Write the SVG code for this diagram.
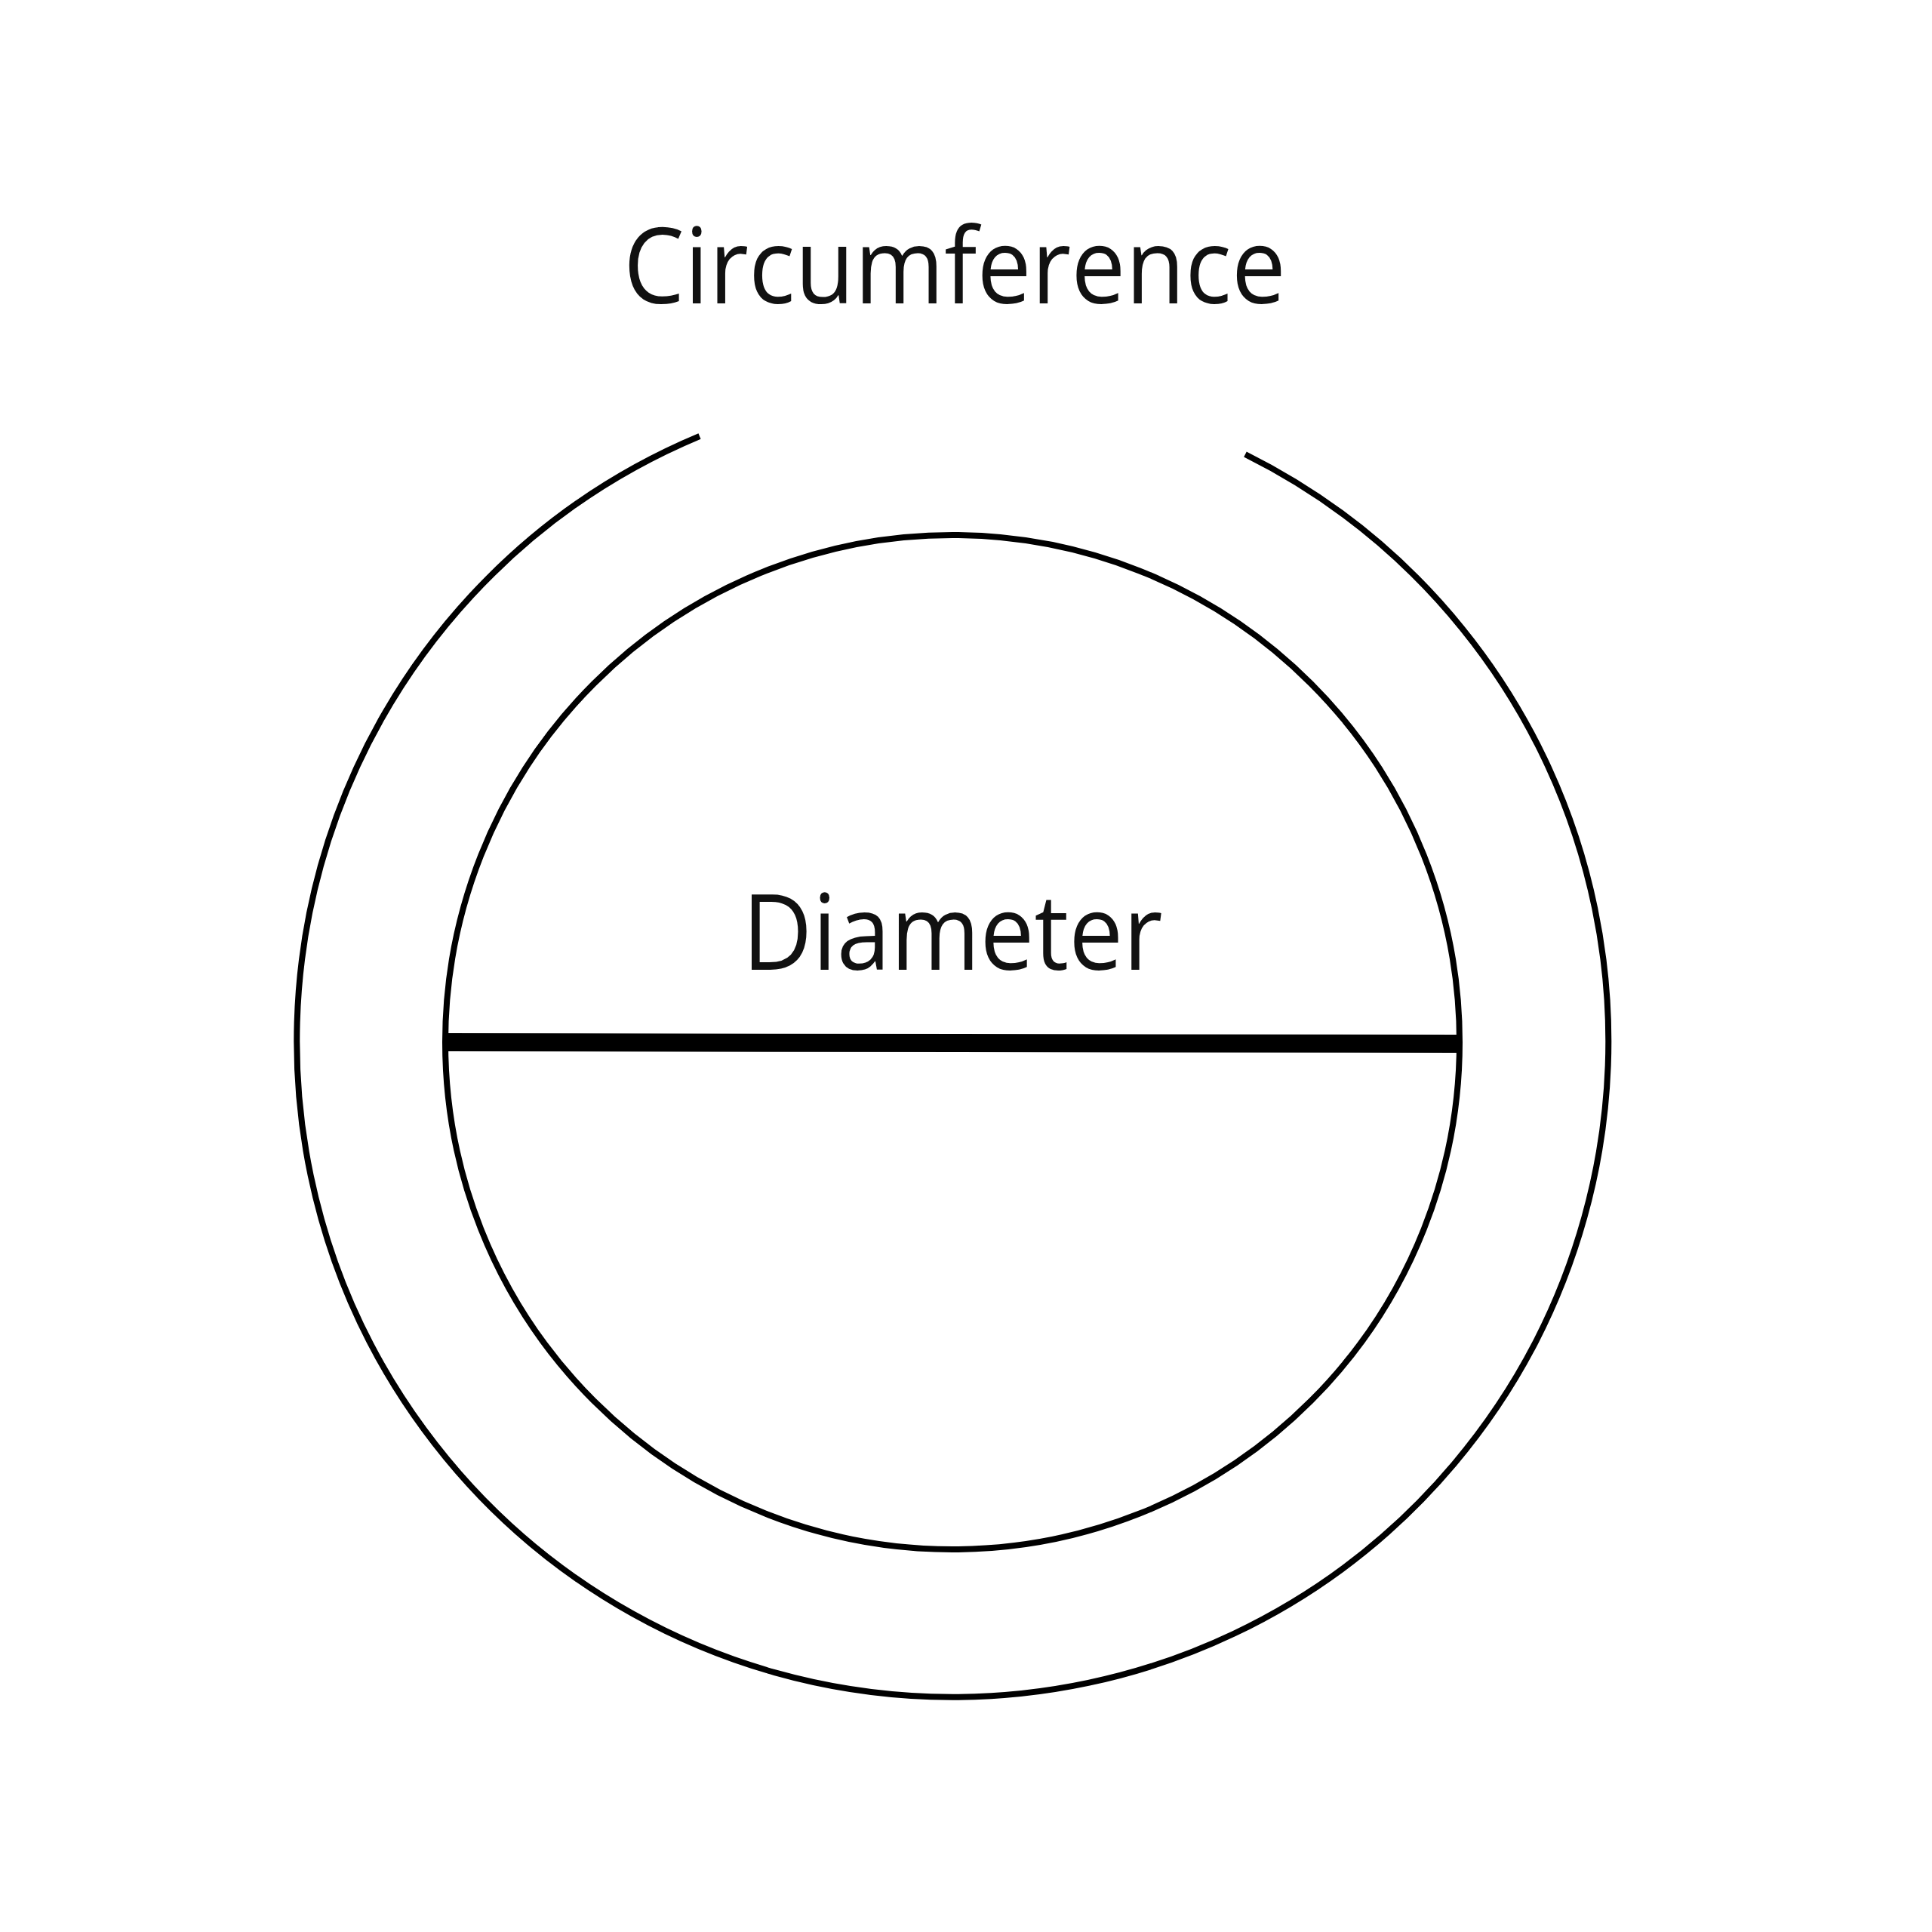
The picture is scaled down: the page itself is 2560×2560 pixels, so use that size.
<svg xmlns="http://www.w3.org/2000/svg" width="2560" height="2560" viewBox="0 0 2560 2560">
<style>
.ring{fill:none;stroke:#000;stroke-width:8}
.lbl{font-family:"Open Sans","Noto Sans",sans-serif;font-size:140px;fill:#111;text-anchor:middle}
</style>
<rect width="2560" height="2560" fill="#fff"/>
<g id="circumference">
<path class="ring" d="M 1650 602 A 869 869 0 1 1 927 578"/>
<text class="lbl" x="1265" y="402" textLength="878" lengthAdjust="spacingAndGlyphs">Circumference</text>
</g>
<g id="circle">
<circle class="ring" cx="1262" cy="1381" r="672"/>
</g>
<g id="connectors">
<line x1="590" y1="1381" x2="1930" y2="1383" stroke="#000" stroke-width="24"/>
</g>
<g id="diameter">
<text class="lbl" x="1262" y="1285" textLength="557" lengthAdjust="spacingAndGlyphs">Diameter</text>
</g>
</svg>
